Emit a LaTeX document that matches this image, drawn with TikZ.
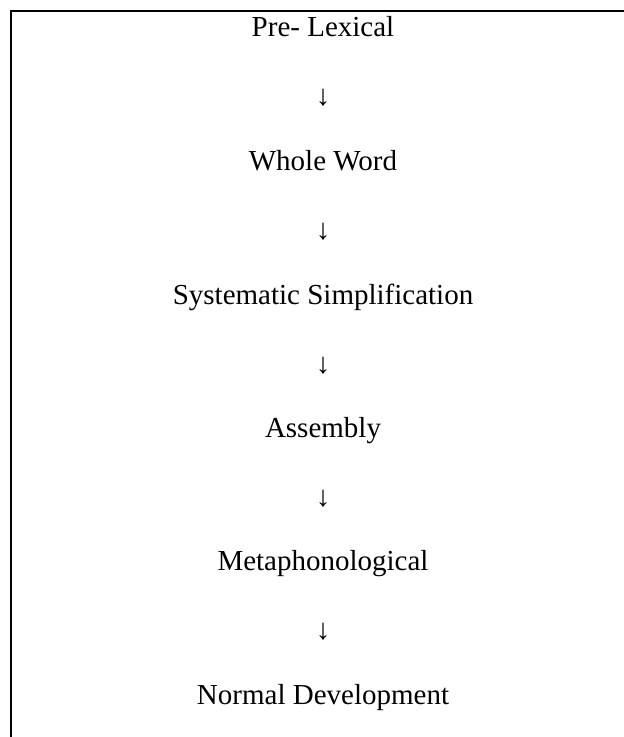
\documentclass[tikz,border=0pt]{standalone}
\usepackage{fontspec}
\setmainfont{Liberation Serif}
\begin{document}
\begin{tikzpicture}[x=1pt,y=-1pt,
  stage/.style={anchor=base,inner sep=0pt,font=\fontsize{29}{34}\selectfont},
  arrowglyph/.style={anchor=center,inner sep=0pt,font=\fontsize{29}{34}\selectfont},
  rule/.style={line width=2pt,line cap=rect}]
\useasboundingbox (0,0) rectangle (624,737);
\coordinate (tl) at (10.5,11);
\coordinate (tr) at (624,11);
\coordinate (bl) at (10.5,737);
\draw[line width=2pt] (tr) -- (tl) -- (bl);
\node[stage] (n1) at (323,36) {Pre- Lexical};
\node[arrowglyph] (a1) at (323,98) {↓};
\node[stage] (n2) at (323,170) {Whole Word};
\node[arrowglyph] (a2) at (323,232) {↓};
\node[stage] (n3) at (323,304) {Systematic Simplification};
\node[arrowglyph] (a3) at (323,366) {↓};
\node[stage] (n4) at (323,437) {Assembly};
\node[arrowglyph] (a4) at (323,499) {↓};
\node[stage] (n5) at (323,570) {Metaphonological};
\node[arrowglyph] (a5) at (323,632) {↓};
\node[stage] (n6) at (323,704) {Normal Development};
\end{tikzpicture}
\end{document}
